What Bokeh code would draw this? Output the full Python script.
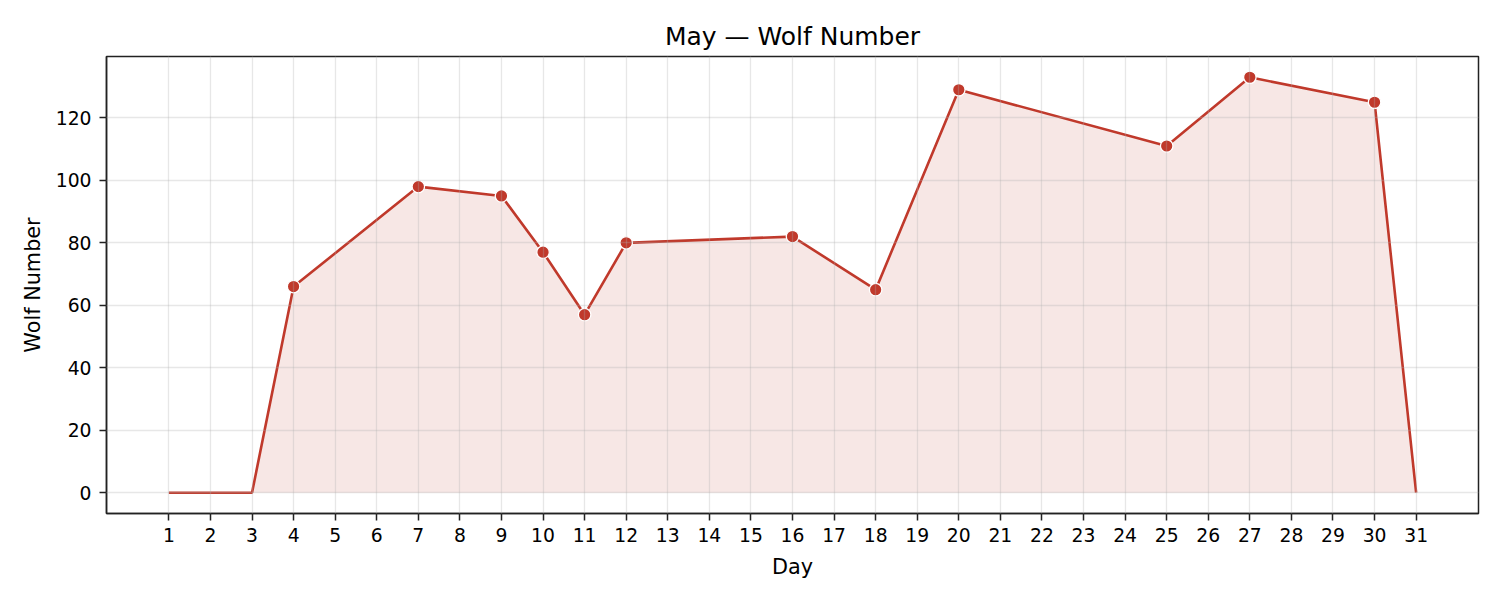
from bokeh.plotting import figure
from bokeh.models import Range1d, FixedTicker
from bokeh.embed import file_html
from bokeh.resources import INLINE

# Wolf number readings for May (days without a reading are left out)
days = [1, 2, 3, 4, 7, 9, 10, 11, 12, 16, 18, 20, 25, 27, 30, 31]
wolf = [0, 0, 0, 66, 98, 95, 77, 57, 80, 82, 65, 129, 111, 133, 125, 0]

day_ticks = list(range(1, 32))
wolf_ticks = [0, 20, 40, 60, 80, 100, 120]

RED = "#c0392b"
FONT = "DejaVu Sans"

# markers only where a spot count was recorded
mk_days = [d for d, w in zip(days, wolf) if w > 0]
mk_wolf = [w for w in wolf if w > 0]

p = figure(width=1492, height=592, output_backend="svg", toolbar_location=None,
           title="May \u2014 Wolf Number",
           x_range=Range1d(-0.5, 32.5), y_range=Range1d(-6.65, 139.65),
           x_axis_label="Day", y_axis_label="Wolf Number",
           min_border_left=106, min_border_right=14, min_border_top=56, min_border_bottom=79)

p.background_fill_color = "white"
p.border_fill_color = "white"
p.outline_line_color = "#222222"
p.outline_line_width = 1.5

p.title.align = "center"
p.title.text_font = FONT
p.title.text_font_size = "25px"
p.title.text_font_style = "normal"
p.title.text_color = "black"
p.title.standoff = 11

p.xaxis.ticker = FixedTicker(ticks=day_ticks)
p.yaxis.ticker = FixedTicker(ticks=wolf_ticks)

for ax in [p.xaxis, p.yaxis]:
    ax.axis_line_color = "#222222"
    ax.axis_line_width = 1.5
    ax.major_tick_line_color = "#222222"
    ax.major_tick_line_width = 1.5
    ax.major_tick_out = 7
    ax.major_tick_in = 0
    ax.minor_tick_line_color = None
    ax.major_label_text_font = FONT
    ax.major_label_text_font_size = "18.75px"
    ax.major_label_text_color = "black"
    ax.axis_label_text_font = FONT
    ax.axis_label_text_font_size = "20.8px"
    ax.axis_label_text_font_style = "normal"
    ax.axis_label_text_color = "black"
p.xaxis.major_label_standoff = 7
p.yaxis.major_label_standoff = 8
p.xaxis.axis_label_standoff = 10
p.yaxis.axis_label_standoff = 8

p.grid.grid_line_color = "#b0b0b0"
p.grid.grid_line_alpha = 0.3
p.grid.grid_line_width = 1.3
p.grid.level = "overlay"

p.varea(x=days, y1=[0] * len(days), y2=wolf, fill_color=RED, fill_alpha=0.12)
p.line(days, wolf, line_color=RED, line_width=2.6)
p.scatter(mk_days, mk_wolf, size=12.5, fill_color=RED, line_color="white", line_width=1.3)

open("out.html", "w").write(file_html(p, INLINE))
